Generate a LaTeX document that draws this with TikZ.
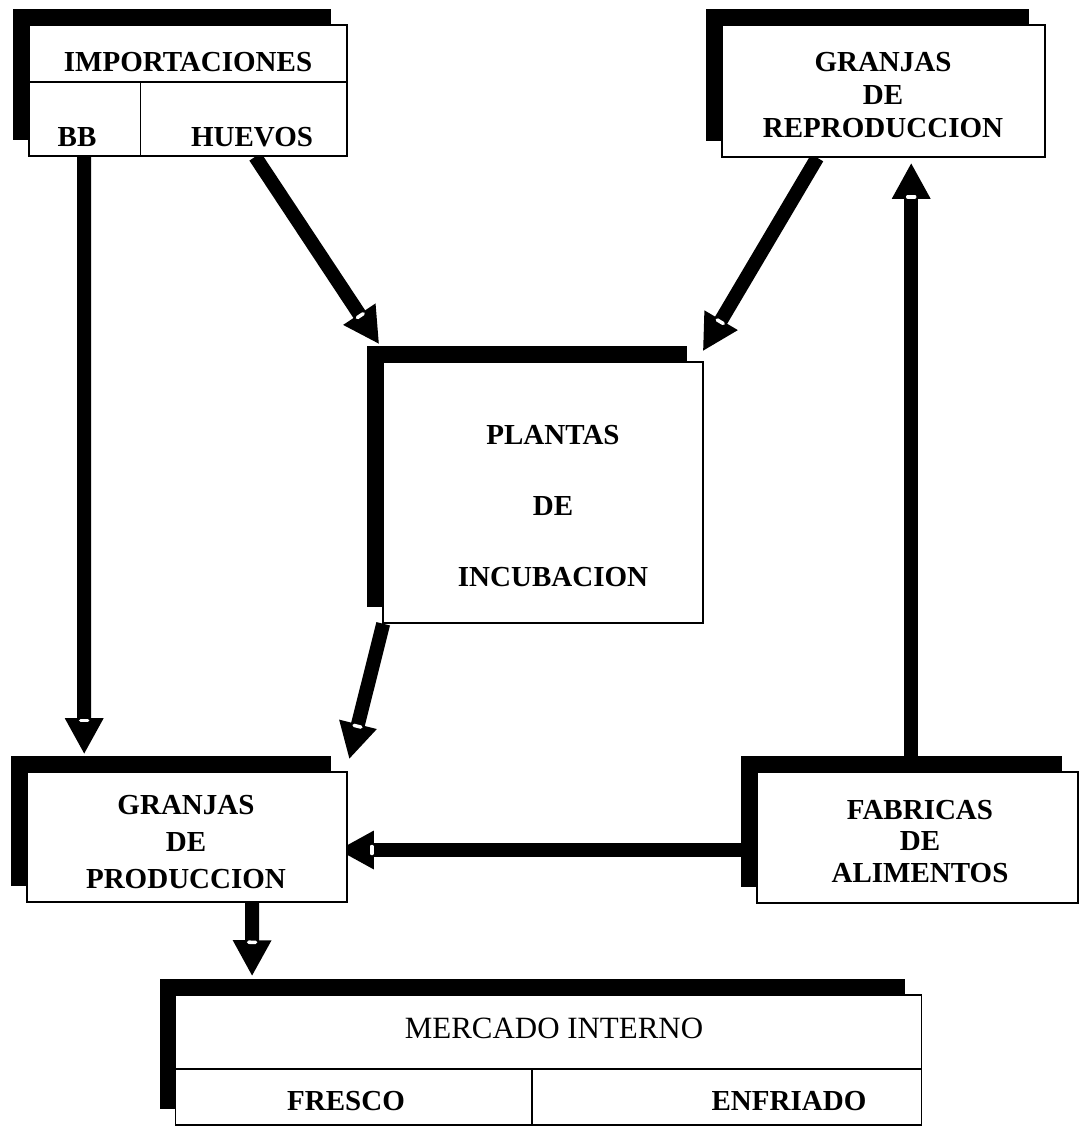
\documentclass[tikz,border=0pt]{standalone}
\usepackage{fontspec}
\setmainfont{Liberation Serif}
\usetikzlibrary{arrows.meta, shadows, calc, decorations.markings, backgrounds}

\begin{document}
\begin{tikzpicture}[x=0.01cm, y=-0.01cm,
  caja/.style={draw, fill=white, inner sep=0pt,
    drop shadow={shadow xshift=-0.16cm, shadow yshift=0.16cm, fill=black, opacity=1}},
  rotulo/.style={inner sep=0pt, align=center, font=\fontsize{8.25}{#1}\selectfont\bfseries},
  rotulo/.default=10.5pt,
  flecha/.style={line width=0.14cm, -{Triangle[length=0.36cm, width=0.36cm]},
    postaction={decorate, decoration={markings,
      mark=at position -0.34cm with {\draw[white, arrows=-, line width=0.035cm, line cap=round] (0,-3.5) -- (0,3.5);}}}}]
\useasboundingbox (0,0) rectangle (1081,1136);

% cajas
\node[caja, minimum width=3.18cm, minimum height=1.31cm] (imp) at (188,90.5) {};
\node[caja, minimum width=3.23cm, minimum height=1.32cm] (rep) at (883.5,91) {};
\node[caja, minimum width=3.20cm, minimum height=2.61cm] (pla) at (543,492.5) {};
\node[caja, minimum width=3.20cm, minimum height=1.30cm] (prod) at (187,837) {};
\node[caja, minimum width=3.21cm, minimum height=1.31cm] (fab) at (917.5,837.5) {};
\node[caja, minimum width=7.45cm, minimum height=1.30cm] (mer) at (548.5,1060) {};

% divisiones
\draw ($(imp.north west)!0.435!(imp.south west)$) -- ($(imp.north east)!0.435!(imp.south east)$);
\draw ($(imp.south west)+(112,0)$) -- ($(imp.south west)+(112,-74)$);
\draw ($(mer.north west)!0.569!(mer.south west)$) -- ($(mer.north east)!0.569!(mer.south east)$);
\draw ($(mer.south west)+(357,0)$) -- ($(mer.south west)+(357,-56)$);

% textos
\node[rotulo] (imptxt) at (188,62) {IMPORTACIONES};
\node[rotulo] (bb) at (77,137) {BB};
\node[rotulo] (huevos) at (252,137) {HUEVOS};
\node[rotulo=9.4pt] (reptxt) at (883,95) {GRANJAS\\DE\\REPRODUCCION};
\node[rotulo=20.2pt] (platxt) at (553,506) {PLANTAS\\DE\\INCUBACION};
\node[rotulo] (prodtxt) at (186,842) {GRANJAS\\DE\\PRODUCCION};
\node[rotulo=9pt] (fabtxt) at (920,841.5) {FABRICAS\\DE\\ALIMENTOS};
\node[inner sep=0pt, font=\fontsize{8.8}{10}\selectfont] (mertxt) at (554,1028.5) {MERCADO INTERNO};
\node[rotulo] (fresco) at (346,1101) {FRESCO};
\node[rotulo] (enfriado) at (789,1101) {ENFRIADO};

% flechas
\begin{scope}[on background layer]
\draw[flecha] ($(imp.south west)+(56,0)$) -- ($(prod.north west)+(58,-17)$);
\draw[flecha] ($(imp.south west)+(227,0)$) -- ($(pla.north west)+(-3,-17)$);
\draw[flecha] ($(rep.south west)+(96,0)$) -- ($(pla.north east)+(-1,-10)$);
\draw[flecha] ($(fab.north west)+(155,0)$) -- ($(rep.south west)+(190,5)$);
\draw[flecha] ($(pla.south west)+(1,0)$) -- ($(prod.north west)+(323,-12)$);
\draw[flecha] ($(fab.west)+(0,12.5)$) -- ($(prod.east)+(-10,13)$);
\draw[flecha] ($(prod.south west)+(226,0)$) -- ($(mer.north west)+(77,-18)$);
\end{scope}
\end{tikzpicture}
\end{document}
